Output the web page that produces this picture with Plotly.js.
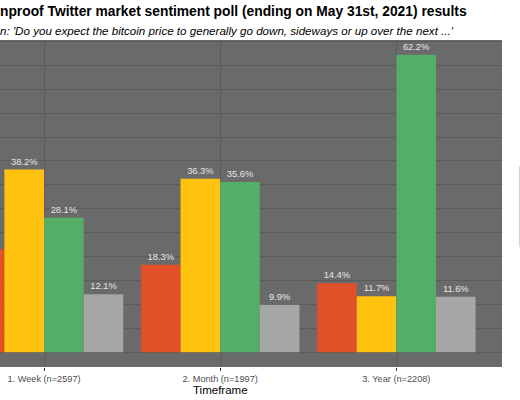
<!DOCTYPE html>
<html>
<head>
<meta charset="utf-8">
<script src="https://cdn.plot.ly/plotly-3.0.1.min.js"></script>
<style>html,body{margin:0;padding:0;background:#fff;}#chart{width:520px;height:400px;}</style>
</head>
<body>
<div id="chart"></div>
<script>
var categories = ['1. Week (n=2597)', '2. Month (n=1997)', '3. Year (n=2208)'];
var seriesNames = ['Down', 'Sideways', 'Up', 'See results'];
var downVals = [21.6, 18.3, 14.4];
var sidewaysVals = [38.2, 36.3, 11.7];
var upVals = [28.1, 35.6, 62.2];
var resultsVals = [12.1, 9.9, 11.6];
var seriesColors = ['#E2502A', '#FFC20E', '#55AE66', '#A6A6A6'];

var titleText = 'nproof Twitter market sentiment poll (ending on May 31st, 2021) results';
var subtitleText = "n: 'Do you expect the bitcoin price to generally go down, sideways or up over the next ...'";
var xTitle = 'Timeframe';

var allVals = [downVals, sidewaysVals, upVals, resultsVals];
var traces = allVals.map(function (vals, i) {
  return {
    type: 'bar',
    name: seriesNames[i],
    x: categories,
    y: vals,
    marker: {color: seriesColors[i], line: {width: 0}},
    text: vals.map(function (v) { return v.toFixed(1) + '%'; }),
    textposition: 'outside',
    textfont: {family: 'Liberation Sans, Arial, sans-serif', size: 9.3, color: '#E8E8E8'},
    cliponaxis: true,
    hoverinfo: 'none'
  };
});

var layout = {
  width: 520,
  height: 400,
  margin: {l: 0, r: 18, t: 40, b: 33, pad: 0},
  paper_bgcolor: '#FFFFFF',
  plot_bgcolor: '#6A6A6A',
  barmode: 'group',
  bargap: 0.1,
  bargroupgap: 0,
  showlegend: false,
  font: {family: 'Liberation Sans, Arial, sans-serif', color: '#000'},
  xaxis: {
    type: 'category',
    range: [-0.25, 2.6],
    showgrid: true,
    gridcolor: '#5B5B5B',
    gridwidth: 1,
    zeroline: false,
    showline: false,
    ticks: 'outside',
    ticklen: 3,
    tickwidth: 1,
    tickcolor: '#333333',
    tickfont: {size: 9.2, color: '#4D4D4D'},
    fixedrange: true
  },
  yaxis: {
    range: [-3.11, 65.31],
    dtick: 5,
    tick0: 0,
    showgrid: true,
    gridcolor: '#5B5B5B',
    gridwidth: 1,
    zeroline: false,
    showticklabels: false,
    ticks: '',
    fixedrange: true
  },
  annotations: [
    {text: '<b>' + titleText + '</b>', xref: 'paper', yref: 'paper', x: 0, y: 1, xanchor: 'left', yanchor: 'middle',
     xshift: -2, yshift: 29, showarrow: false, font: {size: 13.8, color: '#000'}},
    {text: '<i>' + subtitleText + '</i>', xref: 'paper', yref: 'paper', x: 0, y: 1, xanchor: 'left', yanchor: 'middle',
     xshift: -2, yshift: 10, showarrow: false, font: {size: 11.6, color: '#000'}},
    {text: xTitle, xref: 'x', yref: 'paper', x: 1, y: 0, xanchor: 'center', yanchor: 'middle',
     yshift: -23, showarrow: false, font: {size: 11.5, color: '#000'}}
  ],
  shapes: [
    {type: 'line', xref: 'paper', yref: 'paper', x0: 1.0347, x1: 1.0347, y0: 0.3667, y1: 0.6145,
     line: {color: '#D0D0D0', width: 1}}
  ]
};

Plotly.newPlot('chart', traces, layout, {staticPlot: true, displayModeBar: false});
</script>
</body>
</html>
